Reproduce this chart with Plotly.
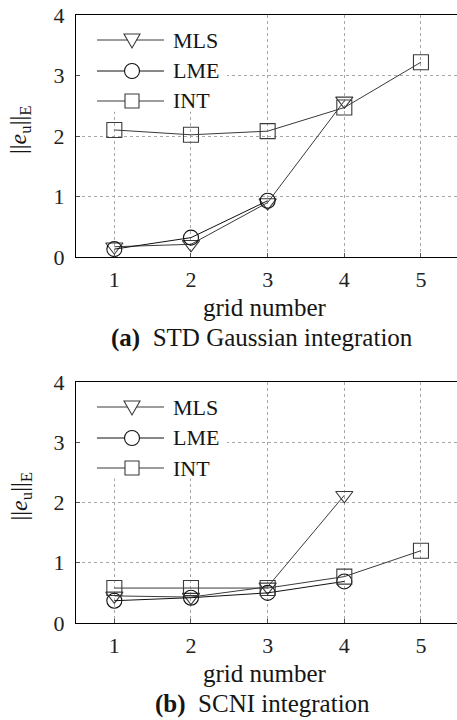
import plotly.graph_objects as go

# datos
GRID = [1, 2, 3, 4, 5]

# (a) STD Gaussian integration
STD_MLS = [0.17, 0.21, 0.90, 2.58]
STD_LME = [0.13, 0.32, 0.93]
STD_INT = [2.10, 2.02, 2.08, 2.47, 3.22]

# (b) SCNI integration
SCNI_MLS = [0.45, 0.43, 0.60, 2.12]
SCNI_LME = [0.37, 0.42, 0.50, 0.69]
SCNI_INT = [0.58, 0.58, 0.58, 0.77, 1.20]

SERIES = ["MLS", "LME", "INT"]
SYMBOLS = {"MLS": "triangle-down-open", "LME": "circle-open", "INT": "square-open"}
COLORS = {"MLS": "#3a3a3a", "LME": "#111111", "INT": "#3a3a3a"}

CAPTIONS = ["STD Gaussian integration", "SCNI integration"]
LETTERS = ["(a)", "(b)"]
Y_TICKS = [0, 1, 2, 3, 4]

FONT = "Liberation Serif, Times New Roman, serif"
W, H = 457, 720


def px_x(s):
    """Pixel de pantalla -> coordenada paper (x)."""
    return s / W


def px_y(s):
    """Pixel de pantalla -> coordenada paper (y)."""
    return 1 - s / H


def texto(fig, x, y, text, size, **kw):
    # anclas explícitas: en 'auto' plotly las mueve cerca de los bordes
    opts = dict(xanchor="center", yanchor="middle")
    opts.update(kw)
    fig.add_annotation(x=x, y=y, xref="paper", yref="paper", text=text,
                       showarrow=False,
                       font=dict(family=FONT, size=size, color="#151515"),
                       **opts)


fig = go.Figure()

panels = [
    {"data": {"MLS": STD_MLS, "LME": STD_LME, "INT": STD_INT},
     "top": 15, "bottom": 257, "xa": "x", "ya": "y"},
    {"data": {"MLS": SCNI_MLS, "LME": SCNI_LME, "INT": SCNI_INT},
     "top": 382, "bottom": 623, "xa": "x2", "ya": "y2"},
]

LEFT = 76
X_RANGE = [0.5, 5.47]

for i, p in enumerate(panels):
    for name in SERIES:
        vals = p["data"][name]
        fig.add_trace(go.Scatter(
            x=GRID[:len(vals)], y=vals, mode="lines+markers", name=name,
            xaxis=p["xa"], yaxis=p["ya"], showlegend=False,
            line=dict(color=COLORS[name], width=1),
            marker=dict(symbol=SYMBOLS[name], size=15, color=COLORS[name],
                        line=dict(width=1.1, color=COLORS[name])),
            cliponaxis=False,
        ))

    ax = dict(
        domain=[px_x(LEFT), 1], range=X_RANGE, tickvals=GRID,
        showgrid=True, gridcolor="#a8a8a8", griddash="dot", gridwidth=1,
        showline=True, linecolor="black", linewidth=1.2, mirror=True,
        ticks="inside", ticklen=4, tickcolor="#555",
        tickfont=dict(family=FONT, size=22, color="#222"),
        zeroline=False, anchor=p["ya"], automargin=False,
        ticklabelstandoff=2,
    )
    ay = dict(
        domain=[px_y(p["bottom"]), px_y(p["top"])], range=[0, 4],
        tickvals=Y_TICKS,
        showgrid=True, gridcolor="#a8a8a8", griddash="dot", gridwidth=1,
        showline=True, linecolor="black", linewidth=1.2, mirror=False,
        ticks="inside", ticklen=4, tickcolor="#555",
        tickfont=dict(family=FONT, size=22, color="#222"),
        zeroline=False, anchor=p["xa"], automargin=False,
        ticklabelstandoff=6,
    )
    key = "" if i == 0 else "2"
    fig.update_layout(**{"xaxis" + key: ax, "yaxis" + key: ay})

    # fondo blanco de la leyenda
    fig.add_shape(type="rect", xref=p["xa"], yref=p["ya"],
                  x0=0.5, x1=2.47, y0=2.40, y1=4,
                  fillcolor="white", line_width=0, layer="between")

    # leyenda propia (líneas largas como en el original)
    row_y = [p["top"] + 25, p["top"] + 56, p["top"] + 86]
    for name, ry in zip(SERIES, row_y):
        yp = px_y(ry)
        fig.add_shape(type="line", xref="paper", yref="paper",
                      x0=px_x(97), x1=px_x(164), y0=yp, y1=yp,
                      line=dict(color=COLORS[name], width=1))
        common = dict(xref="paper", yref="paper", xsizemode="pixel",
                      ysizemode="pixel", xanchor=px_x(132), yanchor=yp,
                      line=dict(color=COLORS[name], width=1.1),
                      fillcolor="white")
        if name == "MLS":
            fig.add_shape(type="path", path="M-8,6 L8,6 L0,-8 Z", **common)
        elif name == "LME":
            fig.add_shape(type="circle", x0=-7.5, x1=7.5, y0=-7.5, y1=7.5, **common)
        else:
            fig.add_shape(type="rect", x0=-7, x1=7, y0=-7, y1=7, **common)
        texto(fig, px_x(171), yp, name, 22, xanchor="left")

    mid = (p["top"] + p["bottom"]) / 2
    texto(fig, px_x(20), px_y(mid - 6),
          "||<i>e</i><sub>u</sub>||<sub>E</sub>", 24, textangle=-90)
    texto(fig, px_x(265), px_y(p["bottom"] + 50), "grid number", 25)
    texto(fig, px_x(262), px_y(p["bottom"] + 81),
          f"<b>{LETTERS[i]}</b>  {CAPTIONS[i]}", 25)

fig.update_layout(
    template="none",
    width=W, height=H,
    margin=dict(l=0, r=0, t=0, b=0, autoexpand=False),
    plot_bgcolor="white", paper_bgcolor="white",
    showlegend=False,
)

# sin margen en el body para que la figura ocupe toda la ventana
fig.write_html("out.html", config={"displayModeBar": False},
               post_script="document.body.style.margin = '0';")
